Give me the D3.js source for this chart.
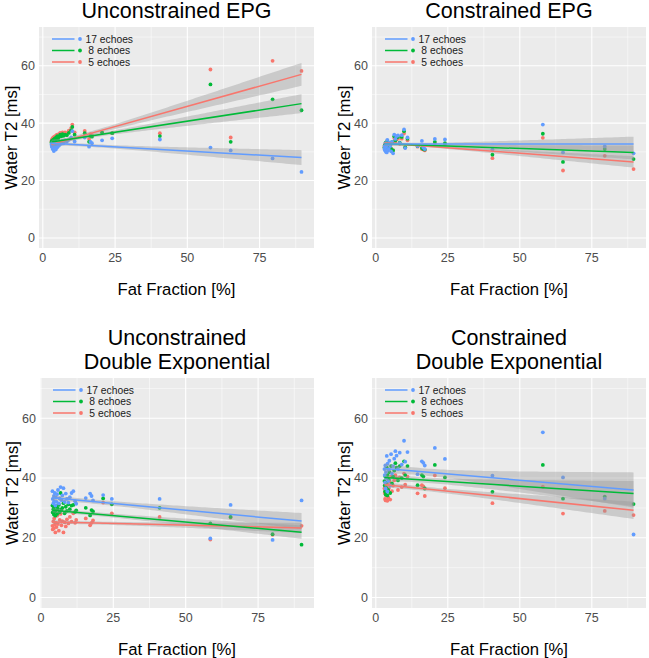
<!DOCTYPE html>
<html><head><meta charset="utf-8">
<script src="https://cdn.jsdelivr.net/npm/d3@7"></script>
<style>
body{margin:0;background:#fff;}
text{font-family:"Liberation Sans",Arial,sans-serif;}
</style></head><body>
<svg id="c" width="649" height="658"></svg>
<script>
// ---------- data ----------
const seriesLabels = ["17 echoes", " 8 echoes", " 5 echoes"];
const seriesColors = ["#619CFF", "#00BA38", "#F8766D"];
const panelTitles = [["Unconstrained EPG"], ["Constrained EPG"], ["Unconstrained", "Double Exponential"], ["Constrained", "Double Exponential"]];
const xTicks = [0, 25, 50, 75];
const xMinor = [12.5, 37.5, 62.5, 87.5];
const yTicks = [0, 20, 40, 60];
const yMinor = [10, 30, 50, 70];
const xLabel = "Fat Fraction [%]";
const yLabel = "Water T2 [ms]";

const ffEPG = [3.0,3.1,3.2,3.3,3.4,3.5,3.6,3.8,4.0,4.1,4.3,4.5,4.7,5.0,5.3,5.6,6.0,6.4,6.8,7.2,7.7,8.3,9.0,9.8,10.2,11.0,14.5,16.0,16.5,17.0,20.5,24.0,40.5,58.0,65.0,79.5,89.5];
const ffDE = [4.0,4.1,4.3,4.5,4.6,4.8,5.0,5.2,5.4,5.6,5.9,6.2,6.5,6.8,7.1,7.4,7.8,8.2,8.6,9.0,9.5,10.0,10.6,11.2,11.8,12.2,15.5,17.0,17.5,18.0,21.5,24.5,41.0,58.5,65.5,80.0,90.0];

// Unconstrained EPG
const uEPG17 = [32.5,31.8,33.0,32.2,31.0,32.8,31.5,30.3,33.2,31.2,32.0,30.8,32.6,31.6,33.0,32.2,33.4,32.8,33.8,33.0,34.0,33.5,34.2,35.0,37.2,33.6,35.0,31.8,33.5,33.0,34.0,34.7,34.3,31.5,30.5,27.7,23.0];
const uEPG8 = [33.2,33.6,33.8,33.0,34.0,33.5,34.2,33.4,34.5,34.0,34.8,34.2,35.0,35.5,34.6,35.2,36.0,35.4,36.2,35.6,36.0,35.8,36.6,37.5,38.7,36.0,36.5,33.5,35.5,35.3,36.7,36.5,35.5,53.5,33.5,48.3,44.5];
const uEPG5 = [33.5,34.0,34.4,33.8,34.6,34.2,35.0,34.4,35.2,34.8,35.5,35.0,35.8,36.0,35.4,36.2,36.6,36.0,36.8,36.4,36.8,36.5,37.4,38.3,39.5,36.8,37.3,34.5,36.2,35.8,36.8,36.5,36.5,58.7,35.0,61.7,58.2];
// Constrained EPG
const cEPG17 = [31.0,32.0,30.5,31.5,33.0,30.0,31.8,29.8,34.2,30.5,32.5,31.0,33.2,32.0,30.2,33.5,29.5,36.0,34.5,35.5,35.7,33.0,35.8,37.8,31.3,35.0,32.0,33.8,31.5,31.0,34.5,34.3,30.8,39.5,29.8,31.9,29.5];
const cEPG8 = [31.5,32.2,31.0,32.0,33.2,30.8,32.4,30.6,33.8,31.2,32.8,31.6,33.0,32.4,31.0,33.4,30.5,35.4,34.0,35.0,35.2,33.2,35.2,37.2,31.6,34.6,32.0,31.3,31.0,30.8,33.5,33.0,29.0,36.3,26.5,31.0,27.5];
const cEPG5 = [31.8,32.4,31.2,32.2,33.0,31.0,32.5,30.8,33.5,31.4,32.8,31.6,32.8,32.2,31.2,33.0,30.6,34.8,33.6,34.4,34.6,32.8,34.6,36.4,31.5,34.0,31.8,31.0,30.8,30.5,33.0,32.6,27.8,34.9,23.5,28.6,24.0];
// Unconstrained double exponential
const uDE17 = [35.6,33.0,31.5,34.0,32.2,35.0,30.8,33.5,32.0,34.6,36.0,31.5,33.2,37.0,32.6,34.2,36.6,32.0,34.8,33.0,31.8,33.6,35.0,35.6,32.2,31.4,33.3,34.8,34.0,32.5,34.3,33.0,33.0,19.8,31.0,19.3,32.5];
const uDE8 = [30.8,28.5,29.6,27.8,30.2,28.8,27.4,29.2,30.6,28.0,29.8,31.0,28.6,35.0,29.4,30.0,31.6,28.2,30.4,29.0,31.2,29.6,30.8,31.0,28.6,29.2,30.0,27.5,29.3,28.8,33.2,31.2,30.0,24.8,27.0,21.2,17.7];
const uDE5 = [24.0,22.8,25.5,23.2,26.5,24.4,21.8,25.0,23.6,27.4,24.6,22.4,26.0,28.0,24.2,25.6,21.8,25.2,23.8,26.2,24.8,27.0,25.4,28.2,25.0,26.0,26.5,24.2,25.0,25.8,31.8,28.2,27.0,19.4,26.8,21.0,24.0];
// Constrained double exponential
const cDE17 = [43.0,41.0,38.5,44.2,36.5,42.0,40.0,47.4,35.5,44.8,39.0,42.8,45.8,37.5,48.0,41.5,44.0,46.5,49.0,47.5,43.0,48.5,44.5,52.5,45.5,48.7,41.3,45.6,45.1,44.2,50.1,46.4,40.8,55.3,40.2,33.1,21.1];
const cDE8 = [39.0,37.5,35.5,40.5,34.5,38.5,36.8,43.5,34.2,41.0,36.0,39.5,42.0,35.0,44.0,38.2,40.5,42.5,45.0,43.5,39.2,44.0,40.0,45.6,41.0,44.0,37.6,41.0,40.5,36.5,44.4,40.2,35.4,44.4,33.1,33.8,31.3];
const cDE5 = [36.5,35.0,33.0,37.8,32.5,35.8,34.2,40.0,32.4,38.0,33.5,36.6,38.8,32.8,40.5,35.6,37.5,39.2,41.0,40.0,36.0,40.2,37.0,41.5,37.8,40.5,34.9,37.6,37.2,34.0,40.9,36.6,31.6,37.1,28.1,29.0,27.6];

// linear fit: [value at min x, value at max x] for 17, 8, 5 echoes
const uEPGFit = [[33.0,28.0],[33.4,46.8],[32.6,57.0]];
const cEPGFit = [[32.7,32.7],[32.8,29.8],[33.1,26.5]];
const uDEFit = [[33.4,25.6],[29.2,21.9],[25.3,23.3]];
const cDEFit = [[43.2,36.0],[40.2,34.8],[37.8,29.2]];
// 95% CI half width: [narrowest, at max x]
const uEPGCI = [[0.5,2.6],[0.6,3.3],[0.7,4.0]];
const cEPGCI = [[0.45,2.6],[0.4,2.4],[0.35,2.0]];
const uDECI = [[0.7,2.7],[0.6,2.25],[0.5,1.7]];
const cDECI = [[1.2,5.9],[0.9,4.2],[0.7,2.9]];

// ---------- layout ----------
const panels = [
  {x: ffEPG, ys: [uEPG17, uEPG8, uEPG5], fit: uEPGFit, ci: uEPGCI, title: panelTitles[0], left: 39, right: 314, top: 27, bottom: 248},
  {x: ffEPG, ys: [cEPG17, cEPG8, cEPG5], fit: cEPGFit, ci: cEPGCI, title: panelTitles[1], left: 372, right: 646, top: 27, bottom: 248},
  {x: ffDE, ys: [uDE17, uDE8, uDE5], fit: uDEFit, ci: uDECI, title: panelTitles[2], left: 40, right: 314, top: 378, bottom: 608},
  {x: ffEPG, ys: [cDE17, cDE8, cDE5], fit: cDEFit, ci: cDECI, title: panelTitles[3], left: 372, right: 646, top: 378, bottom: 608}
];

const svg = d3.select("#c");

function drawPanel(p) {
  const g = svg.append("g");
  const ext = d3.extent(p.x);
  const pad = (ext[1] - ext[0]) * 0.05;
  const x = d3.scaleLinear().domain([ext[0] - pad, ext[1] + pad]).range([p.left, p.right]);
  const y = d3.scaleLinear().domain([-3.5, 73.5]).range([p.bottom, p.top]);

  g.append("rect").attr("x", p.left).attr("y", p.top)
    .attr("width", p.right - p.left).attr("height", p.bottom - p.top).attr("fill", "#EBEBEB");

  // grid
  g.selectAll("line.xmin").data(xMinor.filter(v => v >= x.domain()[0] && v <= x.domain()[1])).join("line")
    .attr("x1", d => x(d)).attr("x2", d => x(d)).attr("y1", p.top).attr("y2", p.bottom)
    .attr("stroke", "#fff").attr("stroke-width", 0.5);
  g.selectAll("line.ymin").data(yMinor).join("line")
    .attr("y1", d => y(d)).attr("y2", d => y(d)).attr("x1", p.left).attr("x2", p.right)
    .attr("stroke", "#fff").attr("stroke-width", 0.5);
  g.selectAll("line.xmaj").data(xTicks).join("line")
    .attr("x1", d => x(d)).attr("x2", d => x(d)).attr("y1", p.top).attr("y2", p.bottom)
    .attr("stroke", "#fff").attr("stroke-width", 1.1);
  g.selectAll("line.ymaj").data(yTicks).join("line")
    .attr("y1", d => y(d)).attr("y2", d => y(d)).attr("x1", p.left).attr("x2", p.right)
    .attr("stroke", "#fff").attr("stroke-width", 1.1);

  // points (red, green, then blue on top)
  [2, 1, 0].forEach(s => {
    g.append("g").selectAll("circle").data(p.x.map((v, i) => [v, p.ys[s][i]])).join("circle")
      .attr("cx", d => x(d[0])).attr("cy", d => y(d[1])).attr("r", 1.9)
      .attr("fill", seriesColors[s]);
  });

  // ribbons and lines
  const xmin = ext[0], xmax = ext[1];
  const xc = d3.mean(p.x);
  const xs = d3.range(81).map(i => xmin + (xmax - xmin) * i / 80);
  [2, 1, 0].forEach(s => {
    const f = v => p.fit[s][0] + (p.fit[s][1] - p.fit[s][0]) * (v - xmin) / (xmax - xmin);
    const a = p.ci[s][0], b = p.ci[s][1];
    const hw = v => Math.sqrt(a * a + (b * b - a * a) * Math.pow((v - xc) / (xmax - xc), 2));
    g.append("path").datum(xs)
      .attr("d", d3.area().x(v => x(v)).y0(v => y(f(v) - hw(v))).y1(v => y(f(v) + hw(v))))
      .attr("fill", "#999999").attr("fill-opacity", 0.4);
  });
  [2, 1, 0].forEach(s => {
    const f = v => p.fit[s][0] + (p.fit[s][1] - p.fit[s][0]) * (v - xmin) / (xmax - xmin);
    g.append("path").datum([xmin, xmax])
      .attr("d", d3.line().x(v => x(v)).y(v => y(f(v))))
      .attr("stroke", seriesColors[s]).attr("stroke-width", 1.5).attr("fill", "none");
  });

  // legend
  const rows = [12, 23.5, 35];
  seriesLabels.forEach((lab, s) => {
    const ry = p.top + rows[s];
    g.append("line").attr("x1", p.left + 13).attr("x2", p.left + 35.5).attr("y1", ry).attr("y2", ry)
      .attr("stroke", seriesColors[s]).attr("stroke-width", 1.5);
    g.append("circle").attr("cx", p.left + 41).attr("cy", ry).attr("r", 1.9).attr("fill", seriesColors[s]);
    g.append("text").attr("x", p.left + 46.5).attr("y", ry).attr("dy", "0.35em")
      .style("white-space", "pre").attr("font-size", 10.3).attr("fill", "#1a1a1a").text(lab);
  });

  // tick labels
  g.selectAll("text.xt").data(xTicks).join("text")
    .attr("x", d => x(d)).attr("y", p.bottom + 13.5).attr("text-anchor", "middle")
    .attr("font-size", 12.5).attr("fill", "#4D4D4D").text(d => d);
  g.selectAll("text.yt").data(yTicks).join("text")
    .attr("x", p.left - 4).attr("y", d => y(d)).attr("dy", "0.35em").attr("text-anchor", "end")
    .attr("font-size", 12.5).attr("fill", "#4D4D4D").text(d => d);

  // axis titles
  const cx = (p.left + p.right) / 2, cy = (p.top + p.bottom) / 2;
  g.append("text").attr("x", cx).attr("y", p.bottom + 47).attr("text-anchor", "middle")
    .attr("font-size", 16.7).attr("fill", "#000").text(xLabel);
  g.append("text").attr("transform", `translate(${p.left - 22.5},${cy}) rotate(-90)`)
    .attr("text-anchor", "middle").attr("font-size", 16.7).attr("fill", "#000").text(yLabel);

  // title
  const n = p.title.length;
  p.title.forEach((t, i) => {
    g.append("text").attr("x", cx).attr("y", p.top - 9 - (n - 1 - i) * 24)
      .attr("text-anchor", "middle").attr("font-size", 21.5).attr("fill", "#000").text(t);
  });
}

panels.forEach(drawPanel);
</script>
</body></html>
